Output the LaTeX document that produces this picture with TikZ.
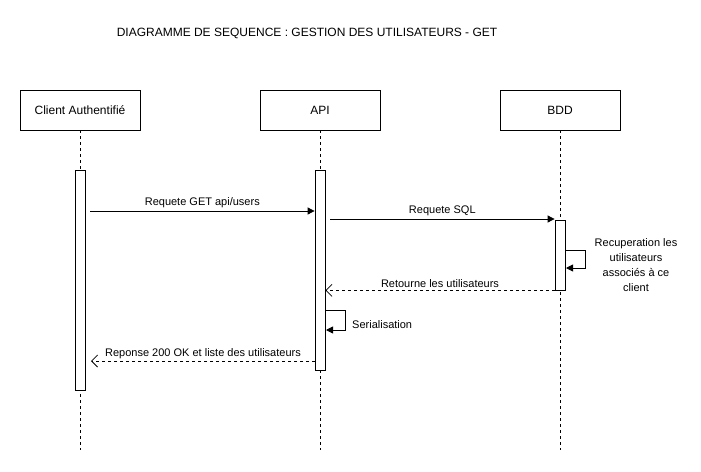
\documentclass[tikz,border=0pt]{standalone}
\usepackage{fontspec}
\setmainfont{Liberation Sans}
\usetikzlibrary{arrows.meta}
\begin{document}
\begin{tikzpicture}[x=1pt,y=-1pt,
  actor/.style={draw,line width=0.8pt,minimum width=120pt,minimum height=40pt,inner sep=0pt,font=\fontsize{12}{14}\selectfont},
  life/.style={dashed,line width=0.8pt,dash pattern=on 3pt off 3pt},
  act/.style={draw,fill=white,line width=0.8pt,minimum width=10pt,inner sep=0pt},
  msg/.style={line width=0.8pt,-{Triangle[length=7pt,width=7pt]}},
  ret/.style={line width=0.8pt,dash pattern=on 3pt off 3pt,-{Straight Barb[length=6pt,width=12pt]}},
  lbl/.style={font=\fontsize{11}{13}\selectfont,inner sep=1pt}]
\useasboundingbox (0,0) rectangle (701,471);
\node[font=\fontsize{12}{14}\selectfont] (title) at (307,33) {DIAGRAMME DE SEQUENCE : GESTION DES UTILISATEURS - GET};
\node[actor] (client) at (80,110) {Client Authentifié};
\node[actor] (api) at (320,110) {API};
\node[actor] (bdd) at (560,110) {BDD};
\coordinate (clientEnd) at (80,450);
\coordinate (apiEnd) at (320,450);
\coordinate (bddEnd) at (560,450);
\draw[life] (client.south) -- (clientEnd);
\draw[life] (api.south) -- (apiEnd);
\draw[life] (bdd.south) -- (bddEnd);
\node[act,minimum height=220pt] (ca) at (80,280) {};
\node[act,minimum height=200pt] (aa) at (320,270) {};
\node[act,minimum height=70pt] (ba) at (560,255) {};
% message 1
\coordinate (m1s) at (90,211);
\draw[msg] (m1s) -- (m1s -| aa.west) node[lbl,midway,above=2pt] {Requete GET api/users};
% message 2
\coordinate (m2s) at (330,219);
\draw[msg] (m2s) -- (m2s -| ba.west) node[lbl,midway,above=2pt] {Requete SQL};
% self BDD
\coordinate (s1a) at (565,250);
\coordinate (s1b) at (566,268);
\draw[msg] (s1a) -- (585,250) -- (585,268) -- (s1b);
\node[lbl,align=center,font=\fontsize{11}{15.2}\selectfont] (s1l) at (636,265) {Recuperation les\\utilisateurs\\associés à ce\\client};
% return 1
\coordinate (r1s) at (ba.south west);
\draw[ret] (r1s) -- (r1s -| aa.east) node[lbl,midway,above=1pt] {Retourne les utilisateurs};
% self API
\coordinate (s2a) at (325,310);
\coordinate (s2b) at (326,330);
\draw[msg] (s2a) -- (345,310) -- (345,330) -- (s2b);
\node[lbl,anchor=west] (s2l) at (351,325) {Serialisation};
% return 2
\coordinate (r2s) at (315,361);
\coordinate (r2e) at (91,361);
\draw[ret] (r2s) -- (r2e) node[lbl,midway,above=1pt] {Reponse 200 OK et liste des utilisateurs};
\end{tikzpicture}
\end{document}
